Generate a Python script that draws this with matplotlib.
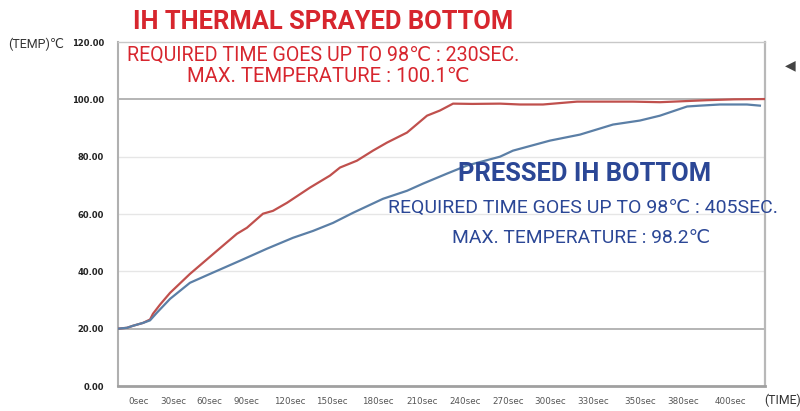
import matplotlib
matplotlib.use("Agg")
import matplotlib.pyplot as plt

# ---- data ----
red_time = [0, 5.8, 9.7, 16.2, 20.8, 22.7, 27.3, 33.8, 46.7, 64.3, 77.2, 83.7, 94.1, 100.6,
            109.7, 124.6, 137.6, 144.1, 155.1, 165.5, 174.6, 187.6, 200.6, 209.0, 217.5,
            230.0, 248.0, 261.0, 275.9, 298.0, 334.3, 351.8, 382.3, 400.0, 420.0]
red_temp = [20.0, 20.3, 21.0, 22.0, 23.2, 25.2, 28.4, 32.5, 39.1, 47.2, 53.1, 55.2, 60.1, 61.1,
            63.9, 69.2, 73.4, 76.2, 78.6, 82.1, 84.9, 88.4, 94.3, 96.1, 98.5,
            98.4, 98.5, 98.2, 98.2, 99.2, 99.2, 99.0, 99.7, 100.0, 100.1]

blue_time = [0, 5.8, 9.7, 16.2, 20.8, 25.3, 33.8, 46.7, 59.7, 79.2, 96.7, 113.6, 126.6, 139.6,
             152.5, 172.0, 187.6, 198.0, 213.6, 226.5, 248.0, 256.4, 280.4, 299.9, 321.3,
             338.8, 351.8, 369.4, 377.8, 390.8, 408.3, 416.7]
blue_temp = [20.0, 20.3, 21.0, 22.0, 22.9, 25.6, 30.4, 36.0, 39.1, 43.7, 47.9, 51.7, 54.1, 56.9,
             60.4, 65.3, 68.1, 70.6, 74.1, 76.9, 80.0, 82.1, 85.6, 87.7, 91.2,
             92.6, 94.3, 97.5, 97.8, 98.2, 98.2, 97.8]

y_ticks = [0, 20, 40, 60, 80, 100, 120]
x_tick_labels = ["0sec", "30sec", "60sec", "90sec", "120sec", "150sec", "180sec", "210sec",
                 "240sec", "270sec", "300sec", "330sec", "350sec", "380sec", "400sec"]
x_tick_pos = [13.6, 35.7, 59.1, 83.7, 111.7, 138.9, 168.8, 197.3, 225.2, 253.2,
              280.4, 308.3, 338.9, 366.8, 397.3]

red_title = "IH THERMAL SPRAYED BOTTOM"
red_line1 = "REQUIRED TIME GOES UP TO 98℃ : 230SEC."
red_line2 = "MAX. TEMPERATURE : 100.1℃"
blue_title = "PRESSED IH BOTTOM"
blue_line1 = "REQUIRED TIME GOES UP TO 98℃ : 405SEC."
blue_line2 = "MAX. TEMPERATURE : 98.2℃"

FAM = ["Roboto", "DejaVu Sans"]
RED_TXT = "#d7262e"
BLUE_TXT = "#2b4796"

fig = plt.figure(figsize=(8.0, 4.11), dpi=100)
fig.patch.set_facecolor("white")
ax = fig.add_axes([118 / 800, 25 / 411, 647 / 800, 344 / 411])

# gridlines
for v in y_ticks:
    if v in (20, 100, 120):
        ax.axhline(v, color="#b4b4b4", lw=1.4, zorder=1)
    elif v != 0:
        ax.axhline(v, color="#e6e6e6", lw=1.0, zorder=1)

ax.plot(red_time, red_temp, color="#c0504d", lw=1.6, zorder=3)
ax.plot(blue_time, blue_temp, color="#5b7fa6", lw=1.6, zorder=3)

ax.set_xlim(0, 420)
ax.set_ylim(0, 120)
ax.set_yticks(y_ticks)
ax.set_yticklabels([f"{v:.2f}" for v in y_ticks], fontsize=6, fontweight="bold",
                   color="#222222", family="DejaVu Sans")
ax.set_xticks(x_tick_pos)
ax.set_xticklabels(x_tick_labels, fontsize=6.3, color="#555555", family="DejaVu Sans")
ax.tick_params(axis="both", length=0)
ax.tick_params(axis="y", pad=10)
ax.tick_params(axis="x", pad=8)

for s, c, w in (("left", "#b0b0b0", 1.5), ("bottom", "#a0a0a0", 2.0),
                ("right", "#b8b8b8", 1.6), ("top", "#c8c8c8", 1.0)):
    ax.spines[s].set_color(c)
    ax.spines[s].set_linewidth(w)

# texts (figure pixel coordinates -> fraction)
def ft(x, y, s, **kw):
    fig.text(x / 800, 1 - y / 411, s, family=FAM, **kw)

ft(8, 44, "(TEMP)℃", fontsize=9, color="#333333", ha="left", va="center")
ft(764, 400, "(TIME)", fontsize=8.8, color="#333333", ha="left", va="center")
ft(790, 65, "◀", fontsize=10, color="#444444", ha="center", va="center")

ft(323, 22, red_title, fontsize=18.4, fontweight="bold", color=RED_TXT, ha="center", va="center")
ft(323, 55, red_line1, fontsize=14.1, color=RED_TXT, ha="center", va="center")
ft(328, 77, red_line2, fontsize=14.6, color=RED_TXT, ha="center", va="center")

ft(585, 174, blue_title, fontsize=18.4, fontweight="bold", color=BLUE_TXT, ha="center", va="center")
ft(583, 208, blue_line1, fontsize=14.0, color=BLUE_TXT, ha="center", va="center")
ft(581, 238, blue_line2, fontsize=13.9, color=BLUE_TXT, ha="center", va="center")

fig.savefig("out.png", dpi=100)
